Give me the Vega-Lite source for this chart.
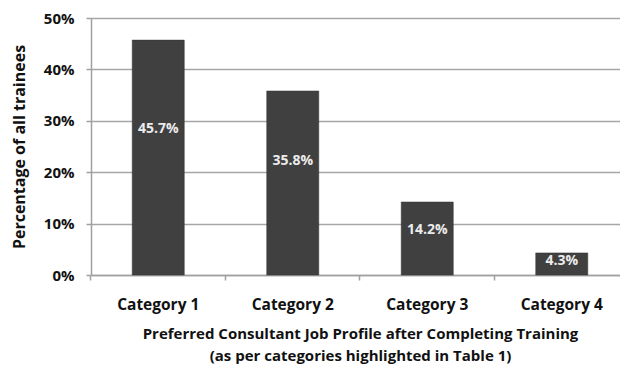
{
  "$schema": "https://vega.github.io/schema/vega-lite/v6.json",
  "width": 538,
  "height": 257,
  "autosize": "none",
  "padding": {"left": 91, "top": 18, "right": 0, "bottom": 96},
  "background": "white",
  "config": {
    "view": {"stroke": null},
    "font": "Open Sans",
    "axis": {"domainColor": "#a0a0a0", "tickColor": "#a0a0a0", "domainWidth": 1.5, "tickWidth": 1.5}
  },
  "data": {
    "values": [
      {"category": "Category 1", "pct": 45.7},
      {"category": "Category 2", "pct": 35.8},
      {"category": "Category 3", "pct": 14.2},
      {"category": "Category 4", "pct": 4.3}
    ]
  },
  "transform": [
    {"calculate": "format(datum.pct, '.1f') + '%'", "as": "label"},
    {"calculate": "datum.pct * 0.62", "as": "labelAt"}
  ],
  "encoding": {
    "x": {
      "field": "category",
      "type": "nominal",
      "sort": null,
      "axis": null,
      "scale": {"paddingInner": 0.613, "paddingOuter": 0.3065}
    }
  },
  "layer": [
    {
      "mark": {"type": "bar", "color": "#404040", "stroke": "#333333", "strokeWidth": 0.5},
      "encoding": {
        "x": {
          "field": "category",
          "type": "nominal",
          "sort": null,
          "axis": {
            "orient": "bottom",
            "title": ["Preferred Consultant Job Profile after Completing Training", "(as per categories highlighted in Table 1)"],
            "titleFont": "Open Sans",
            "titleFontSize": 15,
            "titleFontWeight": "bold",
            "titleColor": "#111111",
            "titleLineHeight": 22,
            "titlePadding": 14,
            "labelAngle": 0,
            "labelFont": "Open Sans",
            "labelFontSize": 15.5,
            "labelFontWeight": "bold",
            "labelColor": "#111111",
            "labelPadding": 22,
            "ticks": false,
            "domain": true
          }
        },
        "y": {
          "field": "pct",
          "type": "quantitative",
          "scale": {"domain": [0, 50]},
          "axis": {
            "title": "Percentage of all trainees",
            "titleFont": "Open Sans",
            "titleFontSize": 16,
            "titleFontWeight": "bold",
            "titleColor": "#111111",
            "titlePadding": 16,
            "values": [0, 10, 20, 30, 40, 50],
            "labelExpr": "datum.value + '%'",
            "labelFont": "Open Sans",
            "labelFontSize": 15,
            "labelFontWeight": "bold",
            "labelColor": "#111111",
            "labelPadding": 12,
            "tickSize": 5,
            "grid": true,
            "gridColor": "#a6a6a6",
            "gridWidth": 1.5
          }
        }
      }
    },
    {
      "mark": {"type": "text", "color": "#ececec", "font": "Open Sans", "fontSize": 14, "fontWeight": "bold", "baseline": "middle"},
      "encoding": {
        "y": {"field": "labelAt", "type": "quantitative"},
        "text": {"field": "label", "type": "nominal"}
      }
    },
    {
      "mark": {"type": "tick", "opacity": 0},
      "encoding": {
        "x": {
          "field": "category",
          "type": "nominal",
          "sort": null,
          "axis": {
            "orient": "bottom",
            "title": null,
            "labels": false,
            "domain": false,
            "ticks": true,
            "tickSize": 5,
            "bandPosition": -0.792
          }
        },
        "y": {"field": "pct", "type": "quantitative"}
      }
    }
  ],
  "resolve": {"axis": {"x": "independent"}}
}
